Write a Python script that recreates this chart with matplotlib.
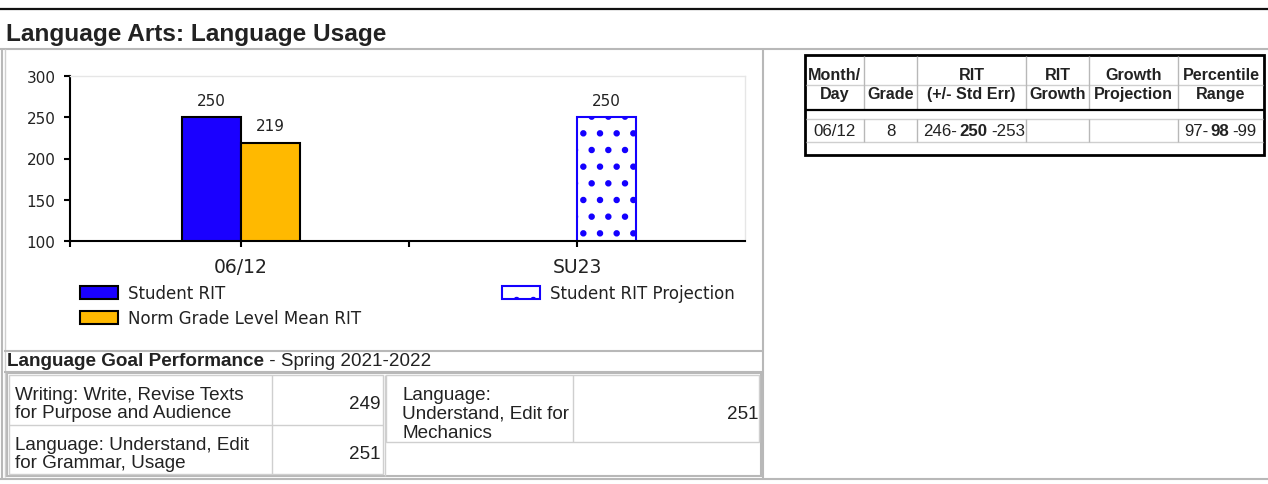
import matplotlib.pyplot as plt
from matplotlib.patches import Rectangle, Patch

plt.rcParams['font.family'] = 'DejaVu Sans'
plt.rcParams['hatch.linewidth'] = 2.2

# chart values
dates = ['06/12', 'SU23']
student_rit = [250]        # at 06/12
norm_mean = [219]          # at 06/12
projection = [250]         # at SU23
y_ticks = [100, 150, 200, 250, 300]

# summary table (right)
head1 = ['Month/', '', 'RIT', 'RIT', 'Growth', 'Percentile']
head2 = ['Day', 'Grade', '(+/- Std Err)', 'Growth', 'Projection', 'Range']
row_date = '06/12'
row_grade = '8'
rit_range = ['246-', '250', '-253']
pct_range = ['97-', '98', '-99']

# goal performance
goal_title = 'Language Goal Performance'
goal_term = ' - Spring 2021-2022'
goal_names = ['Writing: Write, Revise Texts\nfor Purpose and Audience',
              'Language: Understand, Edit\nfor Grammar, Usage',
              'Language:\nUnderstand, Edit for\nMechanics']
goal_scores = [249, 251, 251]

W, H = 1268, 485
fig = plt.figure(figsize=(W / 100, H / 100), dpi=100)

# page layer in pixel coordinates
bg = fig.add_axes([0, 0, 1, 1])
bg.set_xlim(0, W)
bg.set_ylim(H, 0)
bg.axis('off')

GRAY = '#b8b8b8'
LIGHT = '#cfcfcf'
INK = '#222222'
SANS = 'Liberation Sans'


def hl(y, x0, x1, c=GRAY, lw=1.5):
    bg.plot([x0, x1], [y, y], color=c, lw=lw, solid_capstyle='butt')


def vl(x, y0, y1, c=GRAY, lw=1.5):
    bg.plot([x, x], [y0, y1], color=c, lw=lw, solid_capstyle='butt')


hl(10, 0, W, c='#111111', lw=1.6)
bg.text(6, 35, 'Language Arts: Language Usage', family=SANS, weight='bold',
        fontsize=17.6, color=INK, va='center', ha='left')
hl(50, 0, W)
hl(480, 0, W)
vl(2, 50, 480)
vl(5, 50, 478, c=LIGHT, lw=1)
vl(763, 50, 480)

# ---- bar chart ----
ax = fig.add_axes([70 / W, 1 - 242 / H, 675 / W, 165 / H])
ax.set_zorder(2)
bw = 0.175
b1 = ax.bar([0], student_rit, width=-bw, align='edge',
            color='#1a00ff', edgecolor='black', lw=1.5)
b2 = ax.bar([0], norm_mean, width=bw, align='edge',
            color='#ffb900', edgecolor='black', lw=1.5)
b3 = ax.bar([1], projection, width=bw, align='edge',
            color='white', edgecolor='#1400ff', hatch='.', lw=1.5)
for b in (b1, b2, b3):
    ax.bar_label(b, padding=7, fontsize=11, color=INK)

ax.set_ylim(y_ticks[0], y_ticks[-1])
ax.set_yticks(y_ticks)
ax.set_xlim(-0.509, 1.5)
ax.set_xticks([-0.509, 0, 0.5, 1], ['', dates[0], '', dates[1]])
ax.tick_params(axis='y', length=4.5, width=1.5, pad=6, labelsize=11,
               labelcolor=INK)
ax.tick_params(axis='x', length=4.5, width=1.5, pad=7, labelsize=13.5,
               labelcolor=INK)
for s in ('left', 'bottom'):
    ax.spines[s].set_linewidth(1.5)
for s in ('top', 'right'):
    ax.spines[s].set_color('#e6e6e6')
    ax.spines[s].set_linewidth(1)

leg1 = ax.legend([Patch(facecolor='#1a00ff', edgecolor='black', lw=1.5),
                  Patch(facecolor='#ffb900', edgecolor='black', lw=1.5)],
                 ['Student RIT', 'Norm Grade Level Mean RIT'],
                 loc='upper left', bbox_to_anchor=(80 / W, 1 - 285 / H),
                 bbox_transform=fig.transFigure, frameon=False, fontsize=12,
                 handlelength=2.3, handleheight=0.8, handletextpad=0.6,
                 labelspacing=0.45, borderpad=0, borderaxespad=0, labelcolor=INK)
ax.add_artist(leg1)
ax.legend([Patch(facecolor='white', edgecolor='#1400ff', hatch='.', lw=1.5)],
          ['Student RIT Projection'],
          loc='upper left', bbox_to_anchor=(502 / W, 1 - 285 / H),
          bbox_transform=fig.transFigure, frameon=False, fontsize=12,
          handlelength=2.3, handleheight=0.8, handletextpad=0.6,
          borderpad=0, borderaxespad=0, labelcolor=INK)

# ---- goal performance ----
hl(352, 4, 763)
hl(373, 4, 763)
t = bg.text(7, 361.5, goal_title, family=SANS, weight='bold', fontsize=13.6,
            color=INK, va='center', ha='left')
bg.annotate(goal_term, xy=(1, 0.5), xycoords=t, va='center', ha='left',
            family=SANS, fontsize=13.6, color=INK)

bg.add_patch(Rectangle((7, 374), 754, 103, fill=False, ec=GRAY, lw=1.5))
# left block: two stacked goals
bg.add_patch(Rectangle((9, 376), 374, 99, fill=False, ec=LIGHT, lw=1))
hl(425.5, 9, 383, c=LIGHT, lw=1)
vl(271.5, 376, 475, c=LIGHT, lw=1)
# right block: one goal
bg.add_patch(Rectangle((386, 376), 373, 67, fill=False, ec=LIGHT, lw=1))
vl(572.5, 376, 443, c=LIGHT, lw=1)
vl(385, 376, 477, c=LIGHT, lw=1)

cells = [(15, 381, 404.5), (15, 381, 454.5), (402, 758, 414.5)]
for (xl, xr, yc), name, score in zip(cells, goal_names, goal_scores):
    bg.text(xl, yc, name, family=SANS, fontsize=13.6, color=INK,
            va='center', ha='left', linespacing=1.12)
    bg.text(xr, yc, str(score), family=SANS, fontsize=13.6, color=INK,
            va='center', ha='right')

# ---- summary table ----
cols = [805, 864, 917, 1026, 1089, 1178, 1264]
hl(86, 806, 1263, c=LIGHT, lw=1)
hl(120, 806, 1263, c=LIGHT, lw=1)
hl(143, 806, 1263, c=LIGHT, lw=1)
for c in cols[1:-1]:
    vl(c, 57, 111, c=GRAY, lw=1)
    vl(c, 120, 143, c=GRAY, lw=1)
hl(111, 805, 1264, c='black', lw=1.6)
bg.add_patch(Rectangle((805, 56), 459, 100, fill=False, ec='black', lw=2))

for i in range(6):
    xc = (cols[i] + cols[i + 1]) / 2
    bg.text(xc, 75, head1[i], family=SANS, weight='bold', fontsize=11.6,
            color=INK, ha='center', va='center')
    bg.text(xc, 94.5, head2[i], family=SANS, weight='bold', fontsize=11.6,
            color=INK, ha='center', va='center')

bg.text((cols[0] + cols[1]) / 2, 131.5, row_date, family=SANS, fontsize=12.2,
        color=INK, ha='center', va='center')
bg.text((cols[1] + cols[2]) / 2, 131.5, row_grade, family=SANS, fontsize=12.2,
        color=INK, ha='center', va='center')
for xc, parts in ((973.5, rit_range), (1219.5, pct_range)):
    mid = bg.text(xc, 131.5, parts[1], family=SANS, weight='bold',
                  fontsize=12.2, color=INK, ha='center', va='center')
    bg.annotate(parts[0], xy=(0, 0.5), xycoords=mid, xytext=(-1.5, 0),
                textcoords='offset points', ha='right', va='center',
                family=SANS, fontsize=12.2, color=INK)
    bg.annotate(parts[2], xy=(1, 0.5), xycoords=mid, xytext=(2.5, 0),
                textcoords='offset points', ha='left', va='center',
                family=SANS, fontsize=12.2, color=INK)

fig.savefig('out.png', dpi=100)
